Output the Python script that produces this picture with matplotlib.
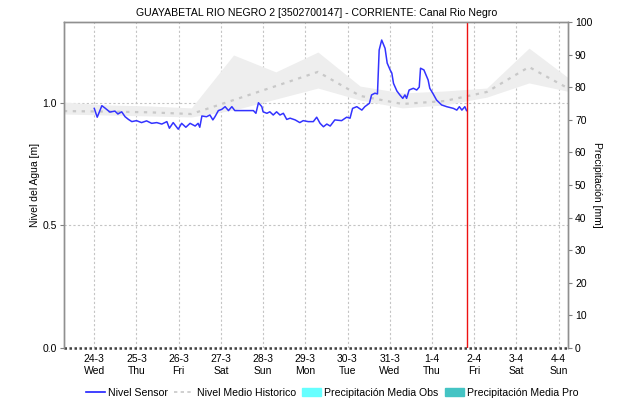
import matplotlib.pyplot as plt
import numpy as np
from matplotlib.lines import Line2D
from matplotlib.patches import Patch

plt.rcParams['font.family'] = ['Liberation Sans', 'DejaVu Sans']
plt.rcParams['font.size'] = 7.5

# days counted from 24-3 00:00
dias = ['24-3\nWed', '25-3\nThu', '26-3\nFri', '27-3\nSat', '28-3\nSun', '29-3\nMon',
        '30-3\nTue', '31-3\nWed', '1-4\nThu', '2-4\nFri', '3-4\nSat', '4-4\nSun']

# nivel sensor [m]
t_sensor = [0.00, 0.07, 0.18, 0.25, 0.37, 0.49, 0.56, 0.65, 0.73, 0.81, 0.89, 1.00,
            1.12, 1.24, 1.36, 1.48, 1.60, 1.72, 1.78, 1.87, 1.99, 2.07, 2.17, 2.27,
            2.39, 2.46, 2.50, 2.55, 2.66, 2.74, 2.81, 2.86, 2.94, 3.02, 3.10, 3.18,
            3.26, 3.33, 3.45, 3.77, 3.83, 3.89, 3.97, 4.00, 4.09, 4.16, 4.24, 4.32,
            4.40, 4.48, 4.56, 4.64, 4.76, 4.87, 4.95, 5.07, 5.19, 5.27, 5.35, 5.43,
            5.51, 5.59, 5.70, 5.86, 5.98, 6.06, 6.12, 6.22, 6.34, 6.41, 6.52, 6.57,
            6.65, 6.71, 6.75, 6.81, 6.89, 6.94, 7.01, 7.05, 7.09, 7.17, 7.24, 7.31,
            7.36, 7.40, 7.46, 7.56, 7.64, 7.70, 7.73, 7.81, 7.91, 7.95, 8.03, 8.11,
            8.23, 8.35, 8.51, 8.59, 8.65, 8.71, 8.78, 8.82]
nivel_sensor = [0.978, 0.942, 0.989, 0.980, 0.963, 0.967, 0.955, 0.964, 0.944, 0.933,
                0.924, 0.928, 0.920, 0.927, 0.917, 0.920, 0.914, 0.924, 0.897, 0.920,
                0.893, 0.917, 0.901, 0.917, 0.906, 0.917, 0.901, 0.947, 0.944, 0.951,
                0.931, 0.944, 0.969, 0.974, 0.985, 0.969, 0.985, 0.969, 0.969, 0.969,
                0.958, 1.001, 0.985, 0.964, 0.958, 0.964, 0.951, 0.964, 0.951, 0.958,
                0.933, 0.938, 0.931, 0.920, 0.928, 0.924, 0.924, 0.942, 0.917, 0.903,
                0.914, 0.906, 0.931, 0.928, 0.942, 0.938, 0.978, 0.985, 0.971, 0.985,
                0.999, 1.033, 1.040, 1.037, 1.216, 1.257, 1.223, 1.163, 1.135, 1.122,
                1.080, 1.049, 1.033, 1.019, 1.033, 1.019, 1.053, 1.060, 1.053, 1.065,
                1.142, 1.135, 1.094, 1.060, 1.037, 1.012, 0.992, 0.985, 0.978, 0.971,
                0.985, 0.971, 0.985, 0.969]

# nivel medio historico y banda [m]
t_hist = [-0.72, 0.3, 1.3, 2.3, 3.3, 4.3, 5.3, 6.3, 7.3, 8.3, 9.3, 10.3, 11.3]
nivel_hist = [0.967, 0.965, 0.962, 0.955, 1.012, 1.069, 1.127, 1.029, 0.996, 1.008,
              1.045, 1.147, 1.053]
hist_sup = [1.004, 0.992, 0.988, 0.980, 1.196, 1.127, 1.208, 1.069, 1.041, 1.049,
            1.061, 1.224, 1.094]
hist_inf = [0.955, 0.951, 0.947, 0.943, 0.971, 1.016, 1.061, 1.012, 0.980, 0.992,
            1.024, 1.082, 1.045]

t_actual = 8.83

fig = plt.figure(figsize=(6.21, 4.03), dpi=100)
ax = fig.add_axes([0.103, 0.1365, 0.8117, 0.8089])
ax2 = ax.twinx()

ax.fill_between(t_hist, hist_inf, hist_sup, color='#eeeeee', lw=0, zorder=1)
ax.plot(t_hist, nivel_hist, color='#c8c8c8', lw=1.6, ls=(0, (1.5, 2.5)), zorder=2)
ax.plot(t_sensor, nivel_sensor, color='#3333ff', lw=1.1, zorder=4)
ax.axvline(t_actual, color='#ee1111', lw=1.0, zorder=5)

ax.set_xlim(-0.718, 11.225)
ax.set_ylim(0, 1.3306)
ax2.set_ylim(0, 100)

ax.set_xticks(np.arange(len(dias)))
ax.set_xticklabels(dias, linespacing=1.35)
ax.set_yticks([0.0, 0.5, 1.0])
ax.set_yticklabels(['0.0', '0.5', '1.0'])
ax2.set_yticks(np.arange(0, 101, 10))

ax.grid(True, color='#c4c4c4', ls=(0, (2, 2)), lw=0.8)
ax.set_axisbelow(True)

ax.tick_params(axis='x', length=0, pad=4)
ax.tick_params(axis='y', length=3, width=0.8, color='#808080', pad=2)
ax2.tick_params(axis='y', length=3, width=0.8, color='#808080', pad=2)

for a in (ax, ax2):
    for s in ['left', 'right', 'top']:
        a.spines[s].set_color('#909090')
        a.spines[s].set_linewidth(1.0)
    a.spines['bottom'].set_visible(False)
# linea base de precipitacion
ax.axhline(0, color='#404040', lw=1.8, ls=(0, (1, 1)), zorder=6, clip_on=False)

ax.set_ylabel('Nivel del Agua [m]', labelpad=2)
ax2.set_ylabel('Precipitación [mm]', rotation=-90, labelpad=7, va='top')

fig.text(0.51, 0.967, 'GUAYABETAL RIO NEGRO 2 [3502700147] - CORRIENTE: Canal Rio Negro',
         ha='center', va='center', fontsize=7.6)

handles = [Line2D([], [], color='#2020ff', lw=1.2),
           Line2D([], [], color='#c8c8c8', lw=1.2, ls=(0, (2, 2))),
           Patch(color='#66ffff'),
           Patch(color='#44c4c4')]
labels = ['Nivel Sensor', 'Nivel Medio Historico', 'Precipitación Media Obs',
          'Precipitación Media Pro']
fig.legend(handles, labels, loc='center', bbox_to_anchor=(0.535, 0.026), ncol=4,
           frameon=False, fontsize=7.6, handlelength=1.8, handletextpad=0.3,
           columnspacing=0.6, handleheight=0.9)

fig.savefig('out.png', dpi=100)
